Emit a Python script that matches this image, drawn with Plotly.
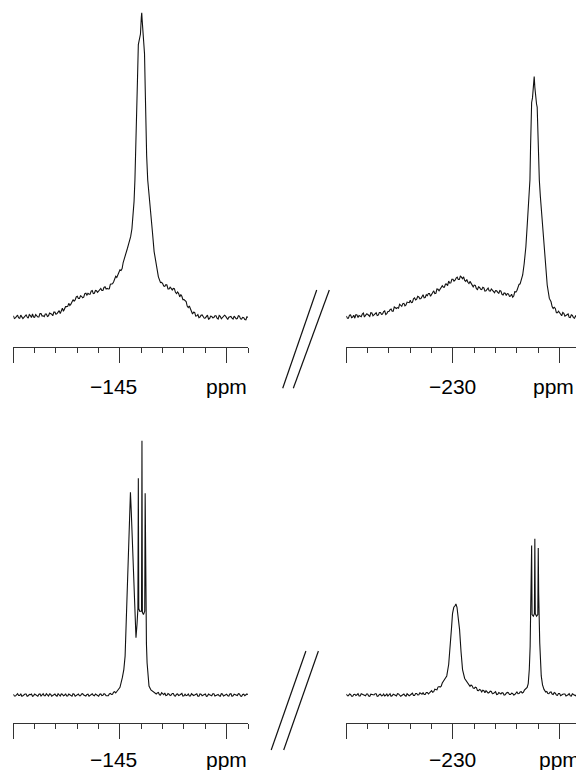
import plotly.graph_objects as go

# ---------------- data (ppm, normalised intensity) ----------------
# top row, left window (-140 ... -151 ppm)
TL_PPM = [
    -140.0, -140.1, -140.2, -140.3, -140.4, -140.5, -140.6, -140.7, -140.8, -140.9,
    -141.0, -141.1, -141.2, -141.3, -141.4, -141.5, -141.6, -141.7, -141.8, -141.9,
    -142.0, -142.1, -142.2, -142.3, -142.4, -142.5, -142.6, -142.7, -142.8, -142.9,
    -143.0, -143.1, -143.2, -143.3, -143.4, -143.5, -143.6, -143.7, -143.8, -143.9,
    -144.0, -144.1, -144.2, -144.3, -144.4, -144.5, -144.6, -144.7, -144.8, -144.9,
    -145.0, -145.1, -145.2, -145.3, -145.4,
    -145.50, -145.56, -145.62, -145.66, -145.70, -145.74, -145.78, -145.82, -145.86, -145.88,
    -145.92, -145.96, -146.00, -146.02, -146.04, -146.08, -146.12, -146.15, -146.18, -146.21,
    -146.25, -146.30, -146.36, -146.44, -146.52, -146.60, -146.70, -146.80,
    -146.9, -147.0, -147.1, -147.2, -147.3, -147.4, -147.5, -147.6, -147.7, -147.8,
    -147.9, -148.0, -148.1, -148.2, -148.3, -148.4, -148.5, -148.6, -148.7, -148.8,
    -148.9, -149.0, -149.1, -149.2, -149.3, -149.4, -149.5, -149.6, -149.7, -149.8,
    -149.9, -150.0, -150.1, -150.2, -150.3, -150.4, -150.5, -150.6, -150.7, -150.8,
    -150.9, -151.0,
]
TL_INT = [
    0.004, -0.003, 0.006, -0.004, 0.002, -0.001, 0.007, -0.004, 0.005, 0.010,
    -0.001, 0.004, 0.000, 0.011, 0.004, 0.010, 0.002, 0.013, 0.009, 0.016,
    0.009, 0.017, 0.011, 0.029, 0.025, 0.034, 0.045, 0.042, 0.057, 0.056,
    0.068, 0.061, 0.068, 0.065, 0.078, 0.078, 0.075, 0.087, 0.078, 0.086,
    0.085, 0.094, 0.087, 0.099, 0.094, 0.093, 0.109, 0.115, 0.134, 0.137,
    0.155, 0.159, 0.190, 0.210, 0.239,
    0.264, 0.290, 0.330, 0.380, 0.450, 0.540, 0.647, 0.780, 0.895, 0.905,
    0.910, 0.930, 0.985, 1.000, 0.975, 0.920, 0.880, 0.865, 0.760, 0.647,
    0.530, 0.450, 0.395, 0.342, 0.280, 0.215, 0.165, 0.132,
    0.113, 0.110, 0.101, 0.105, 0.092, 0.094, 0.094, 0.081, 0.082, 0.066,
    0.068, 0.057, 0.051, 0.031, 0.027, 0.010, 0.015, 0.004, -0.002, 0.006,
    0.002, -0.003, 0.006, -0.005, 0.002, -0.002, 0.004, -0.007, 0.002, -0.003,
    0.006, -0.005, -0.001, 0.002, -0.007, 0.000, -0.005, 0.003, -0.007, -0.002,
    -0.009, -0.001,
]
# extra (in-between) samples of the noisy baseline, top-left
TL_MID_PPM = [
    -140.05, -140.15, -140.25, -140.35, -140.45, -140.55, -140.65, -140.75, -140.85, -140.95,
    -141.05, -141.15, -141.25, -141.35, -141.45, -141.55, -141.65, -141.75, -141.85, -141.95,
    -142.05, -142.15, -142.25, -142.35, -142.45, -142.55, -142.65, -142.75, -142.85, -142.95,
    -143.05, -143.15, -143.25, -143.35, -143.45, -143.55, -143.65, -143.75, -143.85, -143.95,
    -144.05, -144.15, -144.25, -144.35, -144.45, -144.55, -144.65, -144.75, -144.85, -144.95,
    -145.05, -145.15, -145.25, -145.35,
    -146.95, -147.05, -147.15, -147.25, -147.35, -147.45, -147.55, -147.65, -147.75, -147.85,
    -147.95, -148.05, -148.15, -148.25, -148.35, -148.45, -148.55, -148.65, -148.75, -148.85,
    -148.95, -149.05, -149.15, -149.25, -149.35, -149.45, -149.55, -149.65, -149.75, -149.85,
    -149.95, -150.05, -150.15, -150.25, -150.35, -150.45, -150.55, -150.65, -150.75, -150.85,
    -150.95,
]
TL_MID_INT = [
    -0.005, 0.004, -0.003, 0.006, -0.005, 0.004, 0.000, 0.008, -0.002, 0.000,
    0.008, 0.000, 0.011, 0.003, 0.001, 0.010, 0.004, 0.011, 0.004, 0.016,
    0.011, 0.021, 0.018, 0.019, 0.034, 0.035, 0.038, 0.053, 0.052, 0.066,
    0.061, 0.070, 0.063, 0.077, 0.072, 0.075, 0.085, 0.077, 0.087, 0.081,
    0.092, 0.087, 0.097, 0.092, 0.092, 0.108, 0.109, 0.126, 0.130, 0.149,
    0.153, 0.179, 0.197, 0.226,
    0.114, 0.102, 0.106, 0.092, 0.098, 0.089, 0.093, 0.077, 0.077, 0.074,
    0.057, 0.055, 0.036, 0.036, 0.018, 0.016, 0.003, 0.008, 0.000, 0.007,
    -0.004, 0.001, -0.007, 0.003, -0.003, 0.004, -0.004, 0.005, -0.006, 0.000,
    0.003, -0.008, 0.001, -0.004, 0.003, -0.006, 0.004, -0.006, -0.001, -0.008,
    0.001,
]

# top row, right window (-225 ... -235.8 ppm)
TR_PPM = [
    -225.0, -225.1, -225.2, -225.3, -225.4, -225.5, -225.6, -225.7, -225.8, -225.9,
    -226.0, -226.1, -226.2, -226.3, -226.4, -226.5, -226.6, -226.7, -226.8, -226.9,
    -227.0, -227.1, -227.2, -227.3, -227.4, -227.5, -227.6, -227.7, -227.8, -227.9,
    -228.0, -228.1, -228.2, -228.3, -228.4, -228.5, -228.6, -228.7, -228.8, -228.9,
    -229.0, -229.1, -229.2, -229.3, -229.4, -229.5, -229.6, -229.7, -229.8, -229.9,
    -230.0, -230.1, -230.2, -230.3, -230.4, -230.5, -230.6, -230.7, -230.8, -230.9,
    -231.0, -231.1, -231.2, -231.3, -231.4, -231.5, -231.6, -231.7, -231.8, -231.9,
    -232.0, -232.1, -232.2, -232.3, -232.4, -232.5, -232.6, -232.7, -232.8, -232.9,
    -233.0, -233.1, -233.2,
    -233.27, -233.34, -233.42, -233.49, -233.55, -233.61, -233.64, -233.66, -233.69, -233.73,
    -233.77, -233.81, -233.84, -233.88, -233.92, -233.95, -233.98, -234.02, -234.05, -234.10,
    -234.16, -234.24, -234.32, -234.42, -234.52,
    -234.6, -234.7, -234.8, -234.9, -235.0, -235.1, -235.2, -235.3, -235.4, -235.5,
    -235.6, -235.7, -235.8,
]
TR_INT = [
    0.003, -0.004, 0.007, 0.000, -0.004, 0.007, 0.005, 0.001, 0.013, 0.004,
    0.009, 0.002, 0.013, 0.008, 0.014, 0.006, 0.015, 0.010, 0.020, 0.011,
    0.018, 0.026, 0.019, 0.031, 0.031, 0.042, 0.035, 0.045, 0.040, 0.049,
    0.055, 0.048, 0.063, 0.059, 0.066, 0.061, 0.073, 0.064, 0.070, 0.077,
    0.073, 0.086, 0.078, 0.091, 0.092, 0.103, 0.098, 0.108, 0.118, 0.112,
    0.124, 0.121, 0.131, 0.123, 0.132, 0.132, 0.117, 0.114, 0.117, 0.103,
    0.105, 0.093, 0.099, 0.091, 0.098, 0.085, 0.091, 0.086, 0.092, 0.082,
    0.087, 0.081, 0.087, 0.074, 0.079, 0.071, 0.076, 0.069, 0.065, 0.083,
    0.087, 0.107, 0.120,
    0.138, 0.175, 0.231, 0.310, 0.395, 0.450, 0.560, 0.690, 0.705, 0.720,
    0.745, 0.790, 0.755, 0.715, 0.700, 0.690, 0.590, 0.500, 0.450, 0.395,
    0.341, 0.250, 0.176, 0.105, 0.061,
    0.050, 0.028, 0.028, 0.014, 0.015, 0.004, 0.012, 0.005, 0.010, -0.002,
    0.005, -0.004, 0.001,
]
TR_MID_PPM = [
    -225.05, -225.15, -225.25, -225.35, -225.45, -225.55, -225.65, -225.75, -225.85, -225.95,
    -226.05, -226.15, -226.25, -226.35, -226.45, -226.55, -226.65, -226.75, -226.85, -226.95,
    -227.05, -227.15, -227.25, -227.35, -227.45, -227.55, -227.65, -227.75, -227.85, -227.95,
    -228.05, -228.15, -228.25, -228.35, -228.45, -228.55, -228.65, -228.75, -228.85, -228.95,
    -229.05, -229.15, -229.25, -229.35, -229.45, -229.55, -229.65, -229.75, -229.85, -229.95,
    -230.05, -230.15, -230.25, -230.35, -230.45, -230.55, -230.65, -230.75, -230.85, -230.95,
    -231.05, -231.15, -231.25, -231.35, -231.45, -231.55, -231.65, -231.75, -231.85, -231.95,
    -232.05, -232.15, -232.25, -232.35, -232.45, -232.55, -232.65, -232.75, -232.85, -232.95,
    -233.05, -233.15,
    -234.65, -234.75, -234.85, -234.95, -235.05, -235.15, -235.25, -235.35, -235.45, -235.55,
    -235.65, -235.75,
]
TR_MID_INT = [
    -0.004, 0.006, -0.002, 0.006, 0.008, -0.002, 0.002, 0.010, 0.000, 0.010,
    0.004, 0.014, 0.004, 0.011, 0.005, 0.015, 0.009, 0.018, 0.008, 0.018,
    0.024, 0.019, 0.033, 0.028, 0.029, 0.039, 0.044, 0.037, 0.049, 0.047,
    0.047, 0.060, 0.056, 0.068, 0.060, 0.068, 0.063, 0.073, 0.077, 0.068,
    0.079, 0.077, 0.092, 0.086, 0.099, 0.098, 0.108, 0.103, 0.111, 0.124,
    0.118, 0.128, 0.123, 0.135, 0.126, 0.120, 0.123, 0.110, 0.110, 0.099,
    0.104, 0.090, 0.097, 0.090, 0.096, 0.086, 0.095, 0.085, 0.088, 0.080,
    0.086, 0.078, 0.085, 0.072, 0.078, 0.077, 0.068, 0.075, 0.069, 0.082,
    0.102, 0.109,
    0.034, 0.032, 0.014, 0.019, 0.008, 0.015, 0.003, 0.009, -0.001, 0.007,
    -0.002, 0.004,
]

# bottom row, left window
BL_PPM = [
    -140.0, -140.1, -140.2, -140.3, -140.4, -140.5, -140.6, -140.7, -140.8, -140.9,
    -141.0, -141.1, -141.2, -141.3, -141.4, -141.5, -141.6, -141.7, -141.8, -141.9,
    -142.0, -142.1, -142.2, -142.3, -142.4, -142.5, -142.6, -142.7, -142.8, -142.9,
    -143.0, -143.1, -143.2, -143.3, -143.4, -143.5, -143.6, -143.7, -143.8, -143.9,
    -144.0, -144.1, -144.2, -144.3, -144.4, -144.5, -144.6, -144.7, -144.8,
    -144.89, -145.00, -145.11, -145.18, -145.24, -145.28, -145.32, -145.37, -145.41, -145.45,
    -145.49, -145.53, -145.57, -145.61, -145.68, -145.75, -145.80, -145.84, -145.86, -145.88,
    -145.93, -146.01, -146.03, -146.05, -146.10, -146.16, -146.18, -146.20, -146.24, -146.27,
    -146.32, -146.36, -146.45, -146.55, -146.62,
    -146.7, -146.8, -146.9, -147.0, -147.1, -147.2, -147.3, -147.4, -147.5, -147.6,
    -147.7, -147.8, -147.9, -148.0, -148.1, -148.2, -148.3, -148.4, -148.5, -148.6,
    -148.7, -148.8, -148.9, -149.0, -149.1, -149.2, -149.3, -149.4, -149.5, -149.6,
    -149.7, -149.8, -149.9, -150.0, -150.1, -150.2, -150.3, -150.4, -150.5, -150.6,
    -150.7, -150.8, -150.9, -151.0,
]
BL_INT = [
    0.003, -0.004, 0.005, -0.002, -0.005, 0.002, 0.004, -0.003, 0.001, -0.005,
    0.004, -0.001, 0.003, -0.004, 0.005, -0.003, 0.000, 0.004, -0.005, 0.002,
    -0.002, 0.005, -0.004, 0.003, -0.001, -0.004, 0.004, -0.002, 0.005, -0.005,
    0.002, -0.003, 0.004, 0.000, -0.004, 0.003, -0.002, 0.005, -0.003, 0.001,
    -0.005, 0.004, -0.001, 0.003, -0.004, 0.004, 0.002, 0.011, 0.008,
    0.016, 0.030, 0.068, 0.100, 0.153, 0.250, 0.388, 0.490, 0.584, 0.700,
    0.797, 0.720, 0.630, 0.545, 0.380, 0.225, 0.280, 0.340, 0.852, 0.340,
    0.329, 0.330, 1.000, 0.325, 0.316, 0.330, 0.793, 0.330, 0.200, 0.127,
    0.065, 0.035, 0.020, 0.012, 0.009,
    0.004, 0.010, 0.000, 0.006, 0.008, -0.001, 0.003, 0.000, 0.006, -0.004,
    0.004, 0.000, 0.006, -0.003, -0.002, 0.004, -0.004, 0.002, 0.000, 0.005,
    -0.005, 0.003, -0.002, 0.004, -0.004, 0.001, -0.003, 0.005, -0.002, 0.002,
    -0.005, 0.004, -0.001, 0.003, -0.004, 0.005, -0.003, 0.001, -0.002, 0.004,
    -0.005, 0.003, -0.001, 0.002,
]
BL_MID_PPM = [
    -140.05, -140.15, -140.25, -140.35, -140.45, -140.55, -140.65, -140.75, -140.85, -140.95,
    -141.05, -141.15, -141.25, -141.35, -141.45, -141.55, -141.65, -141.75, -141.85, -141.95,
    -142.05, -142.15, -142.25, -142.35, -142.45, -142.55, -142.65, -142.75, -142.85, -142.95,
    -143.05, -143.15, -143.25, -143.35, -143.45, -143.55, -143.65, -143.75, -143.85, -143.95,
    -144.05, -144.15, -144.25, -144.35, -144.45, -144.55, -144.65, -144.75,
    -146.75, -146.85, -146.95, -147.05, -147.15, -147.25, -147.35, -147.45, -147.55, -147.65,
    -147.75, -147.85, -147.95, -148.05, -148.15, -148.25, -148.35, -148.45, -148.55, -148.65,
    -148.75, -148.85, -148.95, -149.05, -149.15, -149.25, -149.35, -149.45, -149.55, -149.65,
    -149.75, -149.85, -149.95, -150.05, -150.15, -150.25, -150.35, -150.45, -150.55, -150.65,
    -150.75, -150.85, -150.95,
]
BL_MID_INT = [
    -0.004, 0.003, -0.002, 0.005, -0.003, 0.004, -0.005, 0.002, 0.004, -0.003,
    0.002, -0.005, 0.004, -0.001, -0.003, 0.005, -0.004, 0.003, -0.002, 0.004,
    -0.005, 0.002, 0.004, -0.003, 0.005, -0.004, 0.001, -0.005, 0.003, -0.002,
    0.004, -0.003, 0.005, -0.004, 0.002, -0.005, 0.003, -0.001, 0.004, -0.004,
    0.003, -0.002, 0.005, -0.003, -0.003, 0.006, 0.003, 0.013,
    0.008, 0.001, 0.009, 0.001, -0.002, 0.006, -0.002, 0.006, -0.003, 0.003,
    -0.002, 0.005, -0.004, 0.003, -0.001, -0.004, 0.005, -0.002, 0.003, -0.005,
    0.004, -0.003, 0.002, -0.005, 0.004, -0.002, 0.005, -0.004, 0.003, -0.003,
    0.005, -0.004, 0.002, -0.003, 0.004, -0.005, 0.003, -0.002, 0.005, -0.004,
    0.002, -0.003, 0.004,
]

# bottom row, right window
BR_PPM = [
    -225.0, -225.1, -225.2, -225.3, -225.4, -225.5, -225.6, -225.7, -225.8, -225.9,
    -226.0, -226.1, -226.2, -226.3, -226.4, -226.5, -226.6, -226.7, -226.8, -226.9,
    -227.0, -227.1, -227.2, -227.3, -227.4, -227.5, -227.6, -227.7, -227.8, -227.9,
    -228.0, -228.1, -228.2, -228.3, -228.4, -228.5, -228.6, -228.7, -228.8, -228.9,
    -229.0, -229.1, -229.2, -229.3, -229.4, -229.5, -229.6,
    -229.71, -229.80, -229.88, -229.93, -229.98, -230.04, -230.09, -230.14, -230.19, -230.25,
    -230.31, -230.38, -230.45, -230.55, -230.64, -230.74,
    -230.8, -230.9, -231.0, -231.1, -231.2, -231.3, -231.4, -231.5, -231.6, -231.7,
    -231.8, -231.9, -232.0, -232.1, -232.2, -232.3, -232.4, -232.5, -232.6, -232.7,
    -232.8, -232.9, -233.0, -233.1, -233.2, -233.3, -233.4,
    -233.48, -233.53, -233.58, -233.62, -233.66, -233.69, -233.71, -233.77, -233.82, -233.84,
    -233.86, -233.92, -233.98, -234.00, -234.02, -234.07, -234.14, -234.20, -234.27, -234.35,
    -234.4, -234.5, -234.6, -234.7, -234.8, -234.9, -235.0, -235.1, -235.2, -235.3,
    -235.4, -235.5, -235.6, -235.7, -235.8,
]
BR_INT = [
    0.004, -0.003, 0.002, -0.005, 0.003, 0.001, -0.004, 0.005, -0.002, -0.003,
    0.004, -0.005, 0.002, 0.000, 0.005, -0.004, 0.003, -0.002, -0.004, 0.004,
    0.001, -0.005, 0.003, -0.001, 0.005, -0.003, -0.002, 0.004, -0.005, 0.002,
    0.000, 0.007, -0.002, 0.006, 0.001, 0.006, 0.010, 0.002, 0.010, 0.008,
    0.017, 0.013, 0.021, 0.031, 0.031, 0.047, 0.056,
    0.075, 0.120, 0.192, 0.260, 0.320, 0.345, 0.350, 0.358, 0.345, 0.310,
    0.258, 0.170, 0.100, 0.065, 0.052, 0.042,
    0.034, 0.036, 0.026, 0.029, 0.017, 0.019, 0.019, 0.009, 0.014, 0.010,
    0.014, 0.006, 0.013, 0.003, 0.006, 0.009, 0.000, 0.007, 0.009, 0.002,
    0.006, 0.002, 0.012, 0.006, 0.013, 0.010, 0.022,
    0.030, 0.045, 0.100, 0.192, 0.400, 0.588, 0.316, 0.310, 0.320, 0.614,
    0.320, 0.310, 0.316, 0.578, 0.400, 0.205, 0.075, 0.040, 0.022, 0.012,
    0.014, 0.005, 0.012, 0.002, 0.007, -0.001, 0.006, 0.001, 0.004, -0.004,
    0.001, -0.003, 0.005, -0.002, 0.003,
]
BR_MID_PPM = [
    -225.05, -225.15, -225.25, -225.35, -225.45, -225.55, -225.65, -225.75, -225.85, -225.95,
    -226.05, -226.15, -226.25, -226.35, -226.45, -226.55, -226.65, -226.75, -226.85, -226.95,
    -227.05, -227.15, -227.25, -227.35, -227.45, -227.55, -227.65, -227.75, -227.85, -227.95,
    -228.05, -228.15, -228.25, -228.35, -228.45, -228.55, -228.65, -228.75, -228.85, -228.95,
    -229.05, -229.15, -229.25, -229.35, -229.45, -229.55,
    -230.85, -230.95, -231.05, -231.15, -231.25, -231.35, -231.45, -231.55, -231.65, -231.75,
    -231.85, -231.95, -232.05, -232.15, -232.25, -232.35, -232.45, -232.55, -232.65, -232.75,
    -232.85, -232.95, -233.05, -233.15, -233.25, -233.35,
    -234.45, -234.55, -234.65, -234.75, -234.85, -234.95, -235.05, -235.15, -235.25, -235.35,
    -235.45, -235.55, -235.65, -235.75,
]
BR_MID_INT = [
    -0.003, 0.004, -0.005, 0.002, -0.002, 0.005, -0.004, 0.003, -0.001, 0.004,
    -0.004, 0.003, -0.002, 0.005, -0.005, 0.002, -0.003, 0.004, -0.001, -0.004,
    0.005, -0.003, 0.002, -0.004, 0.004, -0.005, 0.003, -0.002, 0.005, -0.003,
    0.003, -0.002, 0.006, 0.000, 0.009, 0.003, 0.002, 0.010, 0.004, 0.015,
    0.011, 0.023, 0.020, 0.033, 0.035, 0.054,
    0.039, 0.027, 0.031, 0.018, 0.022, 0.012, 0.017, 0.017, 0.008, 0.015,
    0.005, 0.010, 0.002, 0.010, 0.004, 0.008, 0.001, 0.010, 0.002, 0.007,
    0.000, 0.010, 0.005, 0.012, 0.008, 0.019,
    0.006, 0.011, 0.004, 0.010, 0.000, 0.006, -0.003, 0.003, 0.004, -0.003,
    0.005, -0.004, 0.002, -0.003,
]

# axis ticks / labels
LEFT_RANGE = [-140, -151]
RIGHT_RANGE = [-225, -235.77]
LEFT_MAJOR = [-140, -145, -150]
LEFT_MINOR = [-141, -142, -143, -144, -146, -147, -148, -149, -151]
RIGHT_MAJOR = [-225, -230, -235]
RIGHT_MINOR = [-226, -227, -228, -229, -231, -232, -233, -234]
LEFT_LABEL_AT, LEFT_LABEL = -145, "\u2212145"
RIGHT_LABEL_AT, RIGHT_LABEL = -230, "\u2212230"
LEFT_UNIT_AT, RIGHT_UNIT_AT, UNIT = -150, -235, "ppm"

for a, b in [(TL_PPM, TL_INT), (TR_PPM, TR_INT), (BL_PPM, BL_INT), (BR_PPM, BR_INT),
             (TL_MID_PPM, TL_MID_INT), (TR_MID_PPM, TR_MID_INT),
             (BL_MID_PPM, BL_MID_INT), (BR_MID_PPM, BR_MID_INT)]:
    assert len(a) == len(b), (len(a), len(b))


def merged(ppm, inten, ppm_mid, inten_mid):
    """put main samples and in-between samples in spectral order"""
    pts = sorted(zip(ppm + ppm_mid, inten + inten_mid), key=lambda t: -t[0])
    return [p for p, _ in pts], [v for _, v in pts]


# ---------------- figure ----------------
W, H = 576, 770
INK = "#111111"
AX = "#333333"
FONT = "Liberation Sans, Arial, Helvetica, sans-serif"


def px_x(p):
    return p / W


def px_y(p):
    return (H - p) / H


fig = go.Figure()
for (xs, ys, xm, ym), xa, ya in [((TL_PPM, TL_INT, TL_MID_PPM, TL_MID_INT), "x", "y"),
                                 ((TR_PPM, TR_INT, TR_MID_PPM, TR_MID_INT), "x2", "y2"),
                                 ((BL_PPM, BL_INT, BL_MID_PPM, BL_MID_INT), "x3", "y3"),
                                 ((BR_PPM, BR_INT, BR_MID_PPM, BR_MID_INT), "x4", "y4")]:
    mx, my = merged(xs, ys, xm, ym)
    fig.add_trace(go.Scatter(x=mx, y=my, xaxis=xa, yaxis=ya, mode="lines",
                             line=dict(color=INK, width=1.1), hoverinfo="skip",
                             showlegend=False))


def xaxis(dom, rng, major, minor, anchor):
    return dict(domain=dom, range=rng, anchor=anchor, showgrid=False, zeroline=False,
                showline=True, linecolor=AX, linewidth=1,
                tickmode="array", tickvals=major, showticklabels=False,
                ticks="outside", ticklen=15, tickwidth=1, tickcolor=AX,
                minor=dict(tickmode="array", tickvals=minor, ticks="outside",
                           ticklen=5, tickwidth=1, tickcolor=AX, showgrid=False))


def yaxis(dom, rng, anchor):
    return dict(domain=dom, range=rng, anchor=anchor, visible=False,
                showgrid=False, zeroline=False)


LEFT_DOM = [px_x(13.3), px_x(248.0)]
RIGHT_DOM = [px_x(346.3), 1.0]
TOP_DOM = [px_y(347.3), 1.0]
BOT_DOM = [px_y(723.0), px_y(375.0)]
TOP_RNG = [-(347.3 - 317.0) / 304.3, 317.0 / 304.3]
BOT_RNG = [-(723.0 - 695.0) / 254.3, (695.0 - 375.0) / 254.3]

fig.update_layout(
    width=W, height=H, autosize=False,
    margin=dict(l=0, r=0, t=0, b=0, pad=0),
    paper_bgcolor="white", plot_bgcolor="white",
    xaxis=xaxis(LEFT_DOM, LEFT_RANGE, LEFT_MAJOR, LEFT_MINOR, "y"),
    xaxis2=xaxis(RIGHT_DOM, RIGHT_RANGE, RIGHT_MAJOR, RIGHT_MINOR, "y2"),
    xaxis3=xaxis(LEFT_DOM, LEFT_RANGE, LEFT_MAJOR, LEFT_MINOR, "y3"),
    xaxis4=xaxis(RIGHT_DOM, RIGHT_RANGE, RIGHT_MAJOR, RIGHT_MINOR, "y4"),
    yaxis=yaxis(TOP_DOM, TOP_RNG, "x"),
    yaxis2=yaxis(TOP_DOM, TOP_RNG, "x2"),
    yaxis3=yaxis(BOT_DOM, BOT_RNG, "x3"),
    yaxis4=yaxis(BOT_DOM, BOT_RNG, "x4"),
    font=dict(family=FONT, size=21, color="black"),
)

# tick labels and unit labels
lab_font = dict(family=FONT, size=21, color="black")
for row_y, xl, xr in [(px_y(386.4), "x", "x2"), (px_y(759.8), "x3", "x4")]:
    fig.add_annotation(x=LEFT_LABEL_AT, xref=xl, y=row_y, yref="paper", text=LEFT_LABEL,
                       showarrow=False, xanchor="center", yanchor="middle",
                       xshift=-6.5, font=lab_font)
    fig.add_annotation(x=LEFT_UNIT_AT, xref=xl, y=row_y, yref="paper", text=UNIT,
                       showarrow=False, xanchor="center", yanchor="middle",
                       xshift=-0.5, font=lab_font)
    fig.add_annotation(x=RIGHT_LABEL_AT, xref=xr, y=row_y, yref="paper", text=RIGHT_LABEL,
                       showarrow=False, xanchor="center", yanchor="middle",
                       xshift=0, font=lab_font)
fig.add_annotation(x=RIGHT_UNIT_AT, xref="x2", y=px_y(386.4), yref="paper", text=UNIT,
                   showarrow=False, xanchor="center", yanchor="middle", xshift=-6,
                   font=lab_font)
fig.add_annotation(x=RIGHT_UNIT_AT, xref="x4", y=px_y(759.8), yref="paper", text=UNIT,
                   showarrow=False, xanchor="center", yanchor="middle", xshift=0,
                   font=lab_font)

# axis-break marks (pairs of parallel slashes)
for (x0, y0, x1, y1) in [(282.7, 388.3, 316.7, 290.0), (293.3, 388.3, 329.3, 290.0),
                         (271.2, 750.0, 305.9, 651.0), (283.7, 750.0, 318.4, 651.0)]:
    fig.add_shape(type="line", xref="paper", yref="paper",
                  x0=px_x(x0), y0=px_y(y0), x1=px_x(x1), y1=px_y(y1),
                  line=dict(color=INK, width=1.2))

fig.write_html("out.html", config={"displayModeBar": False},
               post_script="document.body.style.margin='0';document.body.style.overflow='hidden';")
